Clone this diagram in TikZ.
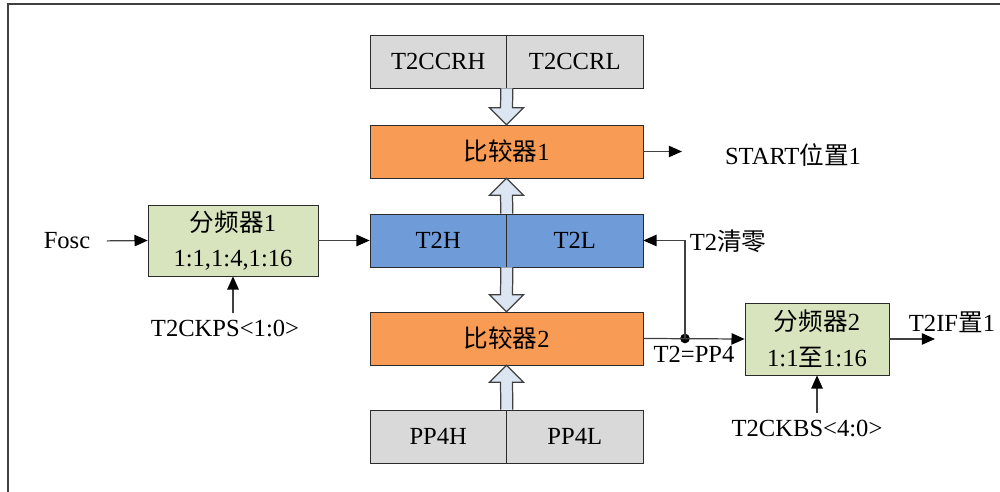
\documentclass[tikz,border=0pt]{standalone}
\usepackage{fontspec}
\setmainfont{Liberation Serif}
\newfontfamily\cjk{Noto Sans CJK SC}
\usetikzlibrary{arrows.meta, calc}

\definecolor{regGray}{HTML}{D9D9D9}
\definecolor{cmpOrange}{HTML}{F79B55}
\definecolor{cntBlue}{HTML}{6F9BD8}
\definecolor{divGreen}{HTML}{D7E4BD}
\definecolor{busFill}{HTML}{DCE6F2}
\definecolor{boxLine}{HTML}{2B2B2B}

% hollow bus arrows (tail, tip)
\newcommand{\hollowdown}[2]{\draw[hollow] ($(#1)+(-6,0)$) -- ($(#2)+(-6,-17)$) -- ($(#2)+(-17,-17)$) -- (#2) -- ($(#2)+(17,-17)$) -- ($(#2)+(6,-17)$) -- ($(#1)+(6,0)$);}
\newcommand{\hollowup}[2]{\draw[hollow] ($(#1)+(-6,0)$) -- ($(#2)+(-6,17)$) -- ($(#2)+(-17,17)$) -- (#2) -- ($(#2)+(17,17)$) -- ($(#2)+(6,17)$) -- ($(#1)+(6,0)$);}

\begin{document}
\begin{tikzpicture}[x=0.02cm, y=-0.02cm, font=\fontsize{14}{20.4}\selectfont,
    reg/.style={draw=boxLine, fill=regGray, minimum width=2.73cm, minimum height=1.06cm, inner sep=0pt},
    cnt/.style={reg, fill=cntBlue},
    cmp/.style={reg, fill=cmpOrange, minimum width=5.46cm},
    divider/.style={draw=boxLine, fill=divGreen, align=center, inner sep=0pt},
    hollow/.style={draw=black!75, fill=busFill, line width=0.7pt},
    sig/.style={draw=black!75, line width=0.7pt, -{Triangle[length=7.5pt, width=6.5pt, black]}},
    dot/.style={circle, fill=black, minimum size=5.5pt, inner sep=0pt},
    frame/.style={draw=black!75, line width=1.1pt}]
    \useasboundingbox (0,0) rectangle (1000,492);
    \draw[frame] (8,492) |- (1000,4);

    % register and comparator column
    \node[reg] (ccrh) at (438.25,61.5) {T2CCRH};
    \node[reg] (ccrl) at (574.75,61.5) {T2CCRL};
    \node[cmp] (cmp1) at (506.5,151.5) {{\cjk 比较器}1};
    \node[cnt] (t2h) at (438.25,240.5) {T2H};
    \node[cnt] (t2l) at (574.75,240.5) {T2L};
    \node[cmp] (cmp2) at (506.5,338.5) {{\cjk 比较器}2};
    \node[reg] (pp4h) at (438.25,436.5) {PP4H};
    \node[reg] (pp4l) at (574.75,436.5) {PP4L};

    \hollowdown{ccrh.south east}{cmp1.north}
    \hollowup{t2h.north east}{cmp1.south}
    \hollowdown{t2h.south east}{cmp2.north}
    \hollowup{pp4h.north east}{cmp2.south}

    % prescaler 1
    \node[divider, minimum width=3.4cm, minimum height=1.42cm] (div1) at (233,240.5) {{\cjk 分频器}1\\1:1,1:4,1:16};
    \node (fosc) at (67,241) {Fosc};
    \node (ckps) at (225,328) {T2CKPS<1:0>};
    \draw[sig, shorten <=6pt] (fosc.east) -- (div1.west);
    \draw[sig] (div1.east) -- (t2h.west);
    \draw[sig] (div1.south |- ckps.north) -- (div1.south);

    % comparator 1 output
    \node (start) at (793,155) {START{\cjk 位置}1};
    \draw[sig, shorten >=21pt] (cmp1.east) -- (cmp1.east -| start.west);

    % prescaler 2 and clear path
    \node[divider, minimum width=2.88cm, minimum height=1.44cm] (div2) at (817,339) {{\cjk 分频器}2\\1:1{\cjk 至}1:16};
    \node[dot] (tap) at (685,338.5) {};
    \node (eq) at (694,354) {T2=PP4};
    \node (clr) at (728,241) {T2{\cjk 清零}};
    \node (ckbs) at (807,428) {T2CKBS<4:0>};
    \coordinate (ifend) at (935,339);
    \node (t2if) at (952,322) {T2IF{\cjk 置}1};
    \draw[sig] (cmp2.east) -- (div2.west);
    \draw[sig] (tap.center) |- (t2l.east);
    \draw[sig] (div2.east) -- (ifend);
    \draw[sig] (div2.south |- ckbs.north) -- (div2.south);
\end{tikzpicture}
\end{document}
